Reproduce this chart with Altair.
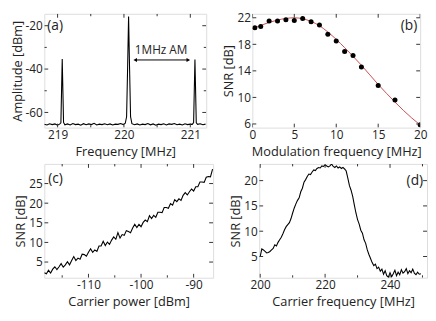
import altair as alt
import pandas as pd

FONT = "Open Sans"
TXT = "#222222"
FR = "#333333"

# ---------------- (a) spectrum ----------------
a_freq = [218.80, 218.84, 218.88, 218.92, 218.96, 219.00, 219.03, 219.05, 219.06, 219.07, 219.08, 219.09,
          219.11, 219.15, 219.19, 219.23, 219.27, 219.31, 219.35, 219.39, 219.43, 219.47, 219.51, 219.55,
          219.59, 219.63, 219.67, 219.71, 219.75, 219.79, 219.83, 219.87, 219.91, 219.95, 219.99,
          220.02, 220.04, 220.055, 220.07, 220.085, 220.10,
          220.12, 220.16, 220.20, 220.24, 220.28, 220.32, 220.36, 220.40, 220.44, 220.48, 220.52, 220.56,
          220.60, 220.64, 220.68, 220.72, 220.76, 220.80, 220.84, 220.88, 220.92, 220.96, 221.00,
          221.03, 221.05, 221.06, 221.07, 221.08, 221.09, 221.11, 221.15, 221.19, 221.23]
a_amp = [-65.4, -65.8, -65.2, -65.6, -65.3, -65.9, -65.4, -64.8, -50.0, -35.4, -50.0, -64.6,
         -65.7, -65.3, -65.8, -65.1, -65.6, -65.4, -65.9, -65.2, -65.7, -65.3, -65.6, -65.0,
         -65.8, -65.4, -65.6, -65.2, -65.7, -65.3, -65.8, -65.4, -65.5, -65.1, -65.6,
         -65.0, -62.0, -40.0, -15.8, -40.0, -62.0,
         -65.2, -65.7, -65.3, -65.8, -65.4, -65.6, -65.1, -65.7, -65.3, -65.9, -65.4, -65.6,
         -65.2, -65.8, -65.3, -65.5, -65.1, -65.7, -65.4, -65.8, -65.2, -65.6, -65.4,
         -65.5, -64.7, -50.0, -35.6, -50.0, -64.8, -65.5, -65.2, -65.7, -65.4]
a_xticks = [219, 220, 221]
a_xminor = [219.5, 220.5]
a_yticks = [-60, -40, -20]
a_yminor = [-50, -30]
a_arrow_x = [220.17, 220.97]
a_arrow_y = -35.8
a_note = "1MHz AM"
a_note_x = 220.56
a_note_y = -31.2

# ---------------- (b) SNR vs modulation frequency ----------------
b_freq = [0.3, 1, 2, 3, 4, 5, 6, 7, 8, 9, 10, 11, 12, 13, 15, 17, 20]
b_snr = [20.5, 20.7, 21.5, 21.5, 21.7, 21.6, 21.9, 21.4, 20.9, 19.5, 18.5, 16.9, 16.3, 14.6, 11.8, 9.6, 5.9]
b_fit_x = [0, 1, 2, 3, 4, 5, 6, 7, 8, 9, 10, 11, 12, 13, 14, 15, 16, 17, 18, 19, 20]
b_fit_y = [20.35, 20.85, 21.3, 21.65, 21.9, 22.0, 21.85, 21.45, 20.8, 19.85, 18.75, 17.5, 16.2, 14.85,
           13.4, 11.95, 10.6, 9.3, 8.05, 6.9, 5.85]
b_xticks = [0, 5, 10, 15, 20]
b_yticks = [6, 10, 14, 18, 22]

# ---------------- (c) SNR vs carrier power ----------------
c_power = [-118.4, -118.0, -117.6, -117.2, -116.8, -116.4, -116.0, -115.6, -115.2, -114.8, -114.4, -114.0,
           -113.6, -113.2, -112.8, -112.4, -112.0, -111.6, -111.2, -110.8, -110.4, -110.0, -109.6, -109.2,
           -108.8, -108.4, -108.0, -107.6, -107.2, -106.8, -106.4, -106.0, -105.6, -105.2, -104.8, -104.4,
           -104.0, -103.6, -103.2, -102.8, -102.4, -102.0, -101.6, -101.2, -100.8, -100.4, -100.0, -99.6,
           -99.2, -98.8, -98.4, -98.0, -97.6, -97.2, -96.8, -96.4, -96.0, -95.6, -95.2, -94.8, -94.4,
           -94.0, -93.6, -93.2, -92.8, -92.4, -92.0, -91.6, -91.2, -90.8, -90.4, -90.0, -89.6, -89.2,
           -88.8, -88.4, -88.0, -87.6, -87.2, -86.8, -86.4]
c_snr = [2.3, 2.0, 2.9, 2.2, 3.2, 3.8, 3.1, 3.8, 4.6, 3.7, 4.3, 5.1,
         4.3, 5.4, 6.4, 5.4, 6.0, 5.7, 7.0, 6.9, 6.5, 7.5, 8.4, 7.5,
         8.1, 7.7, 9.1, 9.1, 10.3, 9.2, 10.1, 9.5, 10.6, 11.4, 10.8, 12.5,
         11.1, 12.0, 11.8, 13.0, 12.8, 12.5, 13.7, 14.6, 13.8, 14.6, 14.0, 15.1,
         15.7, 15.3, 16.8, 16.1, 16.9, 16.4, 17.7, 17.7, 17.6, 18.9, 18.9, 18.7, 19.9,
         19.5, 20.9, 20.4, 21.1, 20.7, 22.0, 22.7, 22.1, 22.9, 23.6, 23.1, 24.2, 24.2,
         25.4, 25.4, 25.3, 26.6, 26.8, 26.7, 28.7]
c_xticks = [-110, -100, -90]
c_xminor = [-115, -105, -95]
c_yticks = [5, 10, 15, 20, 25]

# ---------------- (d) SNR vs carrier frequency ----------------
d_freq = [200.0, 200.5, 201.0, 201.5, 202.0, 202.5, 203.0, 203.5, 204.0, 204.5,
          205.0, 205.5, 206.0, 206.5, 207.0, 207.5, 208.0, 208.5, 209.0, 209.5,
          210.0, 210.5, 211.0, 211.5, 212.0, 212.5, 213.0, 213.5, 214.0, 214.5,
          215.0, 215.5, 216.0, 216.5, 217.0, 217.5, 218.0, 218.5, 219.0, 219.5,
          220.0, 220.5, 221.0, 221.5, 222.0, 222.5, 223.0, 223.5, 224.0, 224.5,
          225.0, 225.5, 226.0, 226.5, 227.0, 227.5, 228.0, 228.5, 229.0, 229.5,
          230.0, 230.5, 231.0, 231.5, 232.0, 232.5, 233.0, 233.5, 234.0, 234.5,
          235.0, 235.5, 236.0, 236.5, 237.0, 237.5, 238.0, 238.5, 239.0, 239.5,
          240.0, 240.5, 241.0, 241.5, 242.0, 242.5, 243.0, 243.5, 244.0, 244.5,
          245.0, 245.5, 246.0, 246.5, 247.0, 247.5, 248.0, 248.5, 249.0, 249.5]
d_snr = [5.0, 6.5, 6.3, 6.0, 5.7, 5.8, 6.0, 6.3, 6.6, 7.3,
         7.1, 7.8, 8.3, 8.8, 9.5, 10.3, 10.9, 11.3, 11.7, 12.5,
         13.6, 14.6, 15.4, 16.1, 16.6, 17.8, 18.5, 19.7, 20.2, 20.8,
         21.3, 21.2, 21.7, 22.1, 22.0, 22.4, 22.6, 22.5, 22.9, 22.8,
         23.1, 22.9, 22.7, 22.9, 23.3, 22.8, 22.6, 22.9, 22.5, 22.7,
         22.4, 22.6, 22.3, 21.9, 20.5, 19.0, 18.1, 16.9, 15.2, 13.6,
         12.3, 11.4, 10.2, 9.6, 8.3, 7.6, 6.3, 5.4, 4.6, 3.8,
         3.2, 3.5, 2.6, 2.9, 2.1, 2.5, 1.5, 2.2, 1.2, 0.9,
         1.8, 1.0, 1.6, 2.3, 1.2, 1.9, 1.4, 2.4, 1.7, 2.0,
         2.6, 1.6, 2.2, 1.8, 2.5, 1.7, 1.4, 1.9, 1.5, 1.6]
d_xticks = [200, 220, 240]
d_xminor = [210, 230, 250]
d_yticks = [5, 10, 15, 20]

LFS = 12   # tick label font size
TFS = 13   # axis title font size


def xaxis(title, values):
    return alt.Axis(title=title, values=values, ticks=False, tickSize=0, domain=False, grid=False,
                    labelFont=FONT, labelFontSize=LFS, labelColor=TXT, labelPadding=2,
                    labelExpr="'' + datum.value", labelFlush=False, labelOverlap=False,
                    titleFont=FONT, titleFontSize=TFS, titleFontWeight="normal", titleColor=TXT,
                    titlePadding=5)


def yaxis(title, values):
    return alt.Axis(title=title, values=values, ticks=False, tickSize=0, domain=False, grid=False,
                    labelFont=FONT, labelFontSize=LFS, labelColor=TXT, labelPadding=2,
                    labelExpr="'' + datum.value", labelFlush=False, labelOverlap=False,
                    titleFont=FONT, titleFontSize=TFS, titleFontWeight="normal", titleColor=TXT,
                    titlePadding=1)


def frame_ticks(xs, ys, ax, ay, xt, yt, W, H, L):
    out = []
    if xt:
        dx = pd.DataFrame({"v": xt})
        for y0, y1 in [(H, H - L), (0, L)]:
            out.append(alt.Chart(dx).mark_rule(color=FR, strokeWidth=1, clip=True).encode(
                x=alt.X("v:Q", scale=xs, axis=ax), y=alt.value(y0), y2=alt.value(y1)))
    if yt:
        dy = pd.DataFrame({"v": yt})
        for x0, x1 in [(0, L), (W - L, W)]:
            out.append(alt.Chart(dy).mark_rule(color=FR, strokeWidth=1, clip=True).encode(
                y=alt.Y("v:Q", scale=ys, axis=ay), x=alt.value(x0), x2=alt.value(x1)))
    return out


def label(txt, x, y, align="left"):
    return alt.Chart(pd.DataFrame({"t": [txt]})).mark_text(
        font=FONT, fontSize=14, color=TXT, align=align, baseline="middle").encode(
        text="t:N", x=alt.value(x), y=alt.value(y))


H = 116

# ----- panel a -----
Wa = 165
xsa = alt.Scale(domain=[218.8, 221.24], nice=False, zero=False)
ysa = alt.Scale(domain=[-67.0, -14.5], nice=False, zero=False)
axa = xaxis("Frequency [MHz]", a_xticks)
aya = yaxis("Amplitude  [dBm]", a_yticks)
la = alt.Chart(pd.DataFrame({"f": a_freq, "a": a_amp})).mark_line(
    color="black", strokeWidth=1.1, clip=True).encode(
    x=alt.X("f:Q", scale=xsa, axis=axa),
    y=alt.Y("a:Q", scale=ysa, axis=aya))
arrow_df = pd.DataFrame({"x1": [a_arrow_x[0]], "x2": [a_arrow_x[1]], "y": [a_arrow_y]})
arr = alt.Chart(arrow_df).mark_rule(color="black", strokeWidth=1).encode(
    x=alt.X("x1:Q", scale=xsa, axis=axa), x2="x2:Q", y=alt.Y("y:Q", scale=ysa, axis=aya))
headL = alt.Chart(arrow_df).mark_point(shape="triangle-left", filled=True, color="black", size=18, opacity=1).encode(
    x=alt.X("x1:Q", scale=xsa, axis=axa), y=alt.Y("y:Q", scale=ysa, axis=aya))
headR = alt.Chart(arrow_df).mark_point(shape="triangle-right", filled=True, color="black", size=18, opacity=1).encode(
    x=alt.X("x2:Q", scale=xsa, axis=axa), y=alt.Y("y:Q", scale=ysa, axis=aya))
note = alt.Chart(pd.DataFrame({"x": [a_note_x], "y": [a_note_y], "t": [a_note]})).mark_text(
    font=FONT, fontSize=12, color=TXT).encode(
    x=alt.X("x:Q", scale=xsa, axis=axa), y=alt.Y("y:Q", scale=ysa, axis=aya), text="t:N")
pa = alt.layer(la, arr, headL, headR, note, label("(a)", 3, 13),
               *frame_ticks(xsa, ysa, axa, aya, a_xticks, a_yticks, Wa, H, 4),
               *frame_ticks(xsa, ysa, axa, aya, a_xminor, a_yminor, Wa, H, 2.5)).properties(width=Wa, height=H)

# ----- panel b -----
Wb = 171
xsb = alt.Scale(domain=[0, 20], nice=False, zero=False)
ysb = alt.Scale(domain=[5.45, 22.6], nice=False, zero=False)
axb = xaxis("Modulation frequency [MHz]", b_xticks)
ayb = yaxis("SNR  [dB]", b_yticks)
fit = alt.Chart(pd.DataFrame({"x": b_fit_x, "y": b_fit_y})).mark_line(
    color="#cc4b4b", strokeWidth=1, interpolate="monotone", clip=True).encode(
    x=alt.X("x:Q", scale=xsb, axis=axb),
    y=alt.Y("y:Q", scale=ysb, axis=ayb))
pts = alt.Chart(pd.DataFrame({"x": b_freq, "y": b_snr})).mark_circle(
    color="black", size=26, opacity=1, clip=True).encode(
    x=alt.X("x:Q", scale=xsb, axis=axb), y=alt.Y("y:Q", scale=ysb, axis=ayb))
pb = alt.layer(fit, pts, label("(b)", Wb - 3, 13, "right"),
               *frame_ticks(xsb, ysb, axb, ayb, b_xticks, b_yticks, Wb, H, 4)).properties(width=Wb, height=H)

# ----- panel c -----
Wc = 172
xsc = alt.Scale(domain=[-118.4, -86.3], nice=False, zero=False)
ysc = alt.Scale(domain=[1, 30], nice=False, zero=False)
axc = xaxis("Carrier power [dBm]", c_xticks)
ayc = yaxis("SNR  [dB]", c_yticks)
lc = alt.Chart(pd.DataFrame({"x": c_power, "y": c_snr})).mark_line(
    color="black", strokeWidth=1.1, clip=True).encode(
    x=alt.X("x:Q", scale=xsc, axis=axc),
    y=alt.Y("y:Q", scale=ysc, axis=ayc))
pc = alt.layer(lc, label("(c)", 4, 15),
               *frame_ticks(xsc, ysc, axc, ayc, c_xticks, c_yticks, Wc, H, 4),
               *frame_ticks(xsc, ysc, axc, ayc, c_xminor, [], Wc, H, 2.5)).properties(width=Wc, height=H)

# ----- panel d -----
Wd = 171
xsd = alt.Scale(domain=[199.7, 251.4], nice=False, zero=False)
ysd = alt.Scale(domain=[0.8, 23.3], nice=False, zero=False)
axd = xaxis("Carrier frequency [MHz]", d_xticks)
ayd = yaxis("SNR  [dB]", d_yticks)
ld = alt.Chart(pd.DataFrame({"x": d_freq, "y": d_snr})).mark_line(
    color="black", strokeWidth=1.1, clip=True).encode(
    x=alt.X("x:Q", scale=xsd, axis=axd),
    y=alt.Y("y:Q", scale=ysd, axis=ayd))
pd_ = alt.layer(ld, label("(d)", Wd - 4, 17, "right"),
                *frame_ticks(xsd, ysd, axd, ayd, d_xticks, d_yticks, Wd, H, 4),
                *frame_ticks(xsd, ysd, axd, ayd, d_xminor, [], Wd, H, 2.5)).properties(width=Wd, height=H)

row1 = alt.hconcat(pa, pb, spacing=15)
row2 = alt.hconcat(pc, pd_, spacing=15)
chart = alt.vconcat(row1, row2, spacing=4).properties(
    padding={"left": 2, "top": 0, "right": 0, "bottom": 0}).configure_view(
    stroke=FR, strokeWidth=1).configure(font=FONT)

chart.save("out.html", embed_options={"renderer": "svg", "actions": False})
